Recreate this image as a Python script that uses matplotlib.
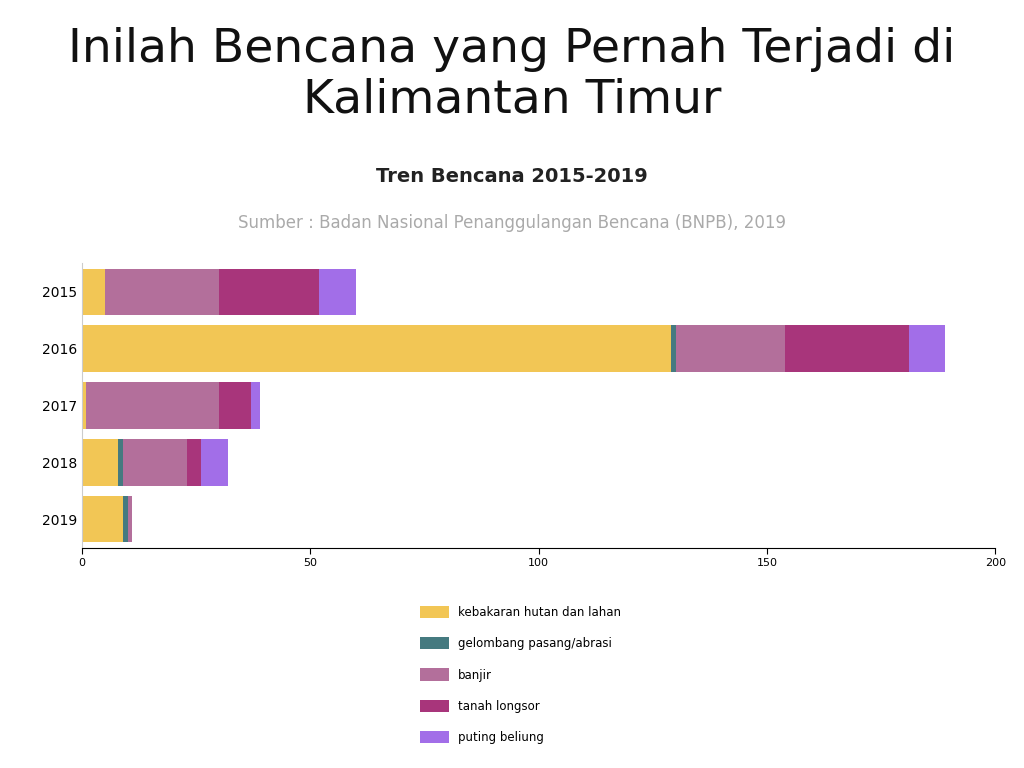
import matplotlib.pyplot as plt
import numpy as np

years = ['2015', '2016', '2017', '2018', '2019']
series = ['kebakaran hutan dan lahan', 'gelombang pasang/abrasi', 'banjir',
          'tanah longsor', 'puting beliung']
kebakaran = [5, 129, 1, 8, 9]
gelombang = [0, 1, 0, 1, 1]
banjir = [25, 24, 29, 14, 1]
longsor = [22, 27, 7, 3, 0]
puting = [8, 8, 2, 6, 0]
colors = ['#f2c655', '#457a80', '#b36f9b', '#a8357b', '#a26ee8']

fig = plt.figure(figsize=(10.24, 7.68), dpi=100)
fig.text(0.5, 0.965, 'Inilah Bencana yang Pernah Terjadi di\nKalimantan Timur',
         ha='center', va='top', fontsize=34, fontweight='medium',
         color='#111111', linespacing=1.15)
fig.text(0.5, 0.763, 'Tren Bencana 2015-2019', ha='center', fontsize=14,
         fontweight='bold', color='#222222')
fig.text(0.5, 0.703, 'Sumber : Badan Nasional Penanggulangan Bencana (BNPB), 2019',
         ha='center', fontsize=12, color='#aaaaaa')

ax = fig.add_axes([0.08, 0.287, 0.892, 0.37])
y = np.arange(len(years))
left = np.zeros(len(years))
for name, vals, c in zip(series, [kebakaran, gelombang, banjir, longsor, puting], colors):
    ax.barh(y, vals, left=left, height=0.82, color=c, label=name)
    left += np.array(vals)
ax.set_yticks(y)
ax.set_yticklabels(years)
ax.invert_yaxis()
ax.set_ylim(4.5, -0.5)
ax.set_xlim(0, 200)
ax.set_xticks([0, 50, 100, 150, 200])
ax.tick_params(axis='x', labelsize=8, length=4)
ax.tick_params(axis='y', labelsize=10, length=0)
for s in ['top', 'right']:
    ax.spines[s].set_visible(False)
ax.spines['left'].set_color('#cccccc')

handles, labels = ax.get_legend_handles_labels()
fig.legend(handles, labels, loc='upper left', bbox_to_anchor=(0.4, 0.225),
           frameon=False, fontsize=8.5, handlelength=2.4, handleheight=1.2,
           labelspacing=1.55)
fig.savefig('out.png')
